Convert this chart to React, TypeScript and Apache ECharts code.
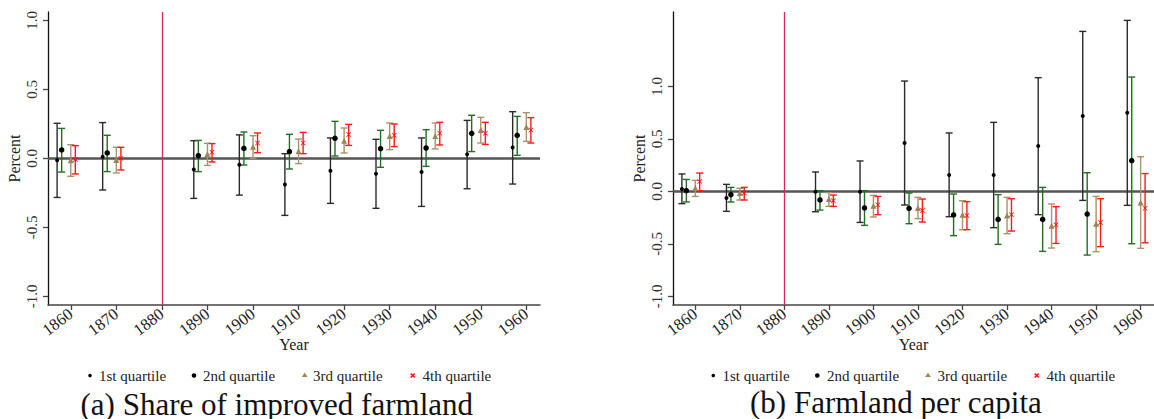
import React, { useEffect, useRef } from "react";
import * as echarts from "echarts";

// ---------- data ----------
const decades = [1860, 1870, 1890, 1900, 1910, 1920, 1930, 1940, 1950, 1960];
const xTickYears = [1860, 1870, 1880, 1890, 1900, 1910, 1920, 1930, 1940, 1950, 1960];
const yTickValues = [-1, -0.5, 0, 0.5, 1];
const treatmentYear = 1880;
const quartileNames = ["1st quartile", "2nd quartile", "3rd quartile", "4th quartile"];
const quartileOffsets = [-3, -2, 0, 1];

// Panel (a): Share of improved farmland
const aQ1Est = [-0.014, 0.012, -0.08, -0.046, -0.19, -0.089, -0.111, -0.099, 0.029, 0.078];
const aQ1Hi = [0.254, 0.259, 0.128, 0.17, 0.034, 0.148, 0.138, 0.148, 0.275, 0.338];
const aQ1Lo = [-0.283, -0.229, -0.29, -0.266, -0.413, -0.326, -0.362, -0.348, -0.22, -0.186];
const aQ2Est = [0.061, 0.039, 0.02, 0.072, 0.049, 0.145, 0.07, 0.075, 0.181, 0.167];
const aQ2Hi = [0.217, 0.167, 0.13, 0.191, 0.174, 0.268, 0.203, 0.208, 0.312, 0.304];
const aQ2Lo = [-0.099, -0.096, -0.096, -0.048, -0.077, 0.017, -0.065, -0.058, 0.049, 0.022];
const aQ3Est = [-0.014, -0.012, 0.032, 0.085, 0.051, 0.128, 0.162, 0.162, 0.206, 0.228];
const aQ3Hi = [0.099, 0.08, 0.109, 0.164, 0.14, 0.22, 0.256, 0.256, 0.297, 0.331];
const aQ3Lo = [-0.13, -0.106, -0.051, 0.0, -0.038, 0.039, 0.063, 0.068, 0.111, 0.123];
const aQ4Est = [-0.009, 0.0, 0.044, 0.111, 0.111, 0.172, 0.167, 0.181, 0.181, 0.206];
const aQ4Hi = [0.092, 0.08, 0.107, 0.184, 0.188, 0.246, 0.249, 0.261, 0.261, 0.295];
const aQ4Lo = [-0.113, -0.084, -0.026, 0.041, 0.034, 0.094, 0.085, 0.097, 0.101, 0.111];

// Panel (b): Farmland per capita
const bQ1Est = [0.023, -0.063, -0.003, -0.003, 0.461, 0.156, 0.156, 0.433, 0.719, 0.75];
const bQ1Hi = [0.166, 0.067, 0.185, 0.29, 1.052, 0.557, 0.658, 1.084, 1.525, 1.63];
const bQ1Lo = [-0.117, -0.19, -0.194, -0.296, -0.13, -0.241, -0.346, -0.222, -0.086, -0.133];
const bQ2Est = [0.007, -0.031, -0.082, -0.158, -0.162, -0.225, -0.267, -0.267, -0.216, 0.293];
const bQ2Hi = [0.114, 0.038, 0.007, 0.007, -0.015, -0.025, -0.031, 0.038, 0.178, 1.09];
const bQ2Lo = [-0.101, -0.101, -0.178, -0.324, -0.308, -0.422, -0.505, -0.572, -0.607, -0.499];
const bQ3Est = [0.032, -0.015, -0.073, -0.136, -0.158, -0.222, -0.229, -0.327, -0.308, -0.105];
const bQ3Hi = [0.105, 0.029, -0.012, -0.038, -0.057, -0.089, -0.057, -0.12, -0.048, 0.331];
const bQ3Lo = [-0.048, -0.082, -0.143, -0.244, -0.26, -0.365, -0.403, -0.54, -0.575, -0.543];
const bQ4Est = [0.095, -0.015, -0.089, -0.127, -0.181, -0.229, -0.222, -0.317, -0.296, -0.16];
const bQ4Hi = [0.175, 0.038, -0.035, -0.048, -0.073, -0.098, -0.07, -0.146, -0.07, 0.17];
const bQ4Lo = [0.007, -0.082, -0.143, -0.222, -0.292, -0.365, -0.378, -0.496, -0.527, -0.49];

const captionA = "(a) Share of improved farmland";
const captionB = "(b) Farmland per capita";

// ---------- styles ----------
const FONT = "'Liberation Serif', 'DejaVu Serif', serif";
const barColors = ["#2a2a2a", "#1f6f1f", "#a8936a", "#ff1a1a"];
const markerColors = ["#000000", "#000000", "#9c8656", "#ff0000"];
const XPATH = "path://M1,0L5,4L9,0L10,1L6,5L10,9L9,10L5,6L1,10L0,9L4,5L0,1Z";
const markerSymbols = ["circle", "circle", "triangle", XPATH];
const markerSizes = [4, 5.5, 6, 5];

function buildPanel(gi: number, est: number[][], hi: number[][], lo: number[][]) {
  const series: any[] = [];
  for (let q = 0; q < 4; q++) {
    const col = barColors[q];
    series.push({
      type: "custom",
      xAxisIndex: gi,
      yAxisIndex: gi,
      z: 3,
      data: decades.map((d, i) => [d + quartileOffsets[q], lo[q][i], hi[q][i]]),
      encode: { x: 0, y: [1, 2] },
      renderItem: (_p: any, api: any) => {
        const x = api.value(0);
        const pHi = api.coord([x, api.value(2)]);
        const pLo = api.coord([x, api.value(1)]);
        const w = 3.5;
        const style = { stroke: col, lineWidth: 1.4 };
        return {
          type: "group",
          children: [
            { type: "line", shape: { x1: pHi[0], y1: pHi[1], x2: pLo[0], y2: pLo[1] }, style },
            { type: "line", shape: { x1: pHi[0] - w, y1: pHi[1], x2: pHi[0] + w, y2: pHi[1] }, style },
            { type: "line", shape: { x1: pLo[0] - w, y1: pLo[1], x2: pLo[0] + w, y2: pLo[1] }, style },
          ],
        };
      },
    });
  }
  for (let q = 0; q < 4; q++) {
    const s: any = {
      type: "scatter",
      name: quartileNames[q],
      xAxisIndex: gi,
      yAxisIndex: gi,
      z: 4,
      symbol: markerSymbols[q],
      symbolSize: markerSizes[q],
      itemStyle: { color: markerColors[q], opacity: 1 },
      data: decades.map((d, i) => [d + quartileOffsets[q], est[q][i]]),
    };
    if (q === 0) {
      s.markLine = {
        silent: true,
        symbol: "none",
        label: { show: false },
        z: 2,
        data: [
          { yAxis: 0, lineStyle: { color: "#555555", width: 2.5, type: "solid" } },
          { xAxis: treatmentYear, lineStyle: { color: "#d8285a", width: 1.3, type: "solid" } },
        ],
      };
    }
    series.push(s);
  }
  return series;
}

function xAxisDef(gi: number, max: number) {
  return {
    type: "value",
    gridIndex: gi,
    min: 1855,
    max,
    name: "Year",
    nameLocation: "middle",
    nameGap: 31,
    nameMoveOverlap: false,
    nameTextStyle: { fontFamily: FONT, fontSize: 16, color: "#222" },
    axisLine: { show: true, onZero: false, lineStyle: { color: "#444", width: 1.5 } },
    axisTick: { show: true, length: 5, customValues: xTickYears, lineStyle: { color: "#444", width: 1.3 } },
    axisLabel: {
      show: true,
      customValues: xTickYears,
      rotate: 37,
      margin: 7,
      fontFamily: FONT,
      fontSize: 16.5,
      color: "#222",
      formatter: (v: number) => String(v),
    },
    splitLine: { show: false },
  };
}

function yAxisDef(gi: number, min: number, max: number) {
  return {
    type: "value",
    gridIndex: gi,
    min,
    max,
    name: "Percent",
    nameLocation: "middle",
    nameRotate: 90,
    nameGap: 26,
    nameMoveOverlap: false,
    nameTextStyle: { fontFamily: FONT, fontSize: 16, color: "#222" },
    axisLine: { show: true, onZero: false, lineStyle: { color: "#111", width: 1.3 } },
    axisTick: { show: true, length: 5, customValues: yTickValues, lineStyle: { color: "#444", width: 1.3 } },
    axisLabel: {
      show: true,
      customValues: yTickValues,
      rotate: 90,
      margin: 9,
      fontFamily: FONT,
      fontSize: 15,
      color: "#333",
      formatter: (v: number) => v.toFixed(1),
    },
    splitLine: { show: false },
  };
}

function legendGraphics(markerXs: number[], textXs: number[], y: number) {
  const els: any[] = [];
  for (let q = 0; q < 4; q++) {
    const mx = markerXs[q];
    if (q === 0) els.push({ type: "circle", shape: { cx: mx, cy: y, r: 1.8 }, style: { fill: "#000" } });
    if (q === 1) els.push({ type: "circle", shape: { cx: mx, cy: y, r: 2.3 }, style: { fill: "#000" } });
    if (q === 2)
      els.push({
        type: "polygon",
        shape: { points: [[mx - 2.8, y + 1.5], [mx + 2.8, y + 1.5], [mx, y - 3]] },
        style: { fill: markerColors[2] },
      });
    if (q === 3) {
      const st = { stroke: "#ff0000", lineWidth: 1.3 };
      els.push({ type: "line", shape: { x1: mx - 2, y1: y - 2, x2: mx + 2, y2: y + 2 }, style: st });
      els.push({ type: "line", shape: { x1: mx - 2, y1: y + 2, x2: mx + 2, y2: y - 2 }, style: st });
    }
    els.push({
      type: "text",
      x: textXs[q],
      y,
      style: {
        text: quartileNames[q],
        fontFamily: FONT,
        fontSize: 15,
        fill: "#222",
        align: "left",
        verticalAlign: "middle",
      },
    });
  }
  return els;
}

export default function App() {
  const ref = useRef<HTMLDivElement>(null);
  useEffect(() => {
    if (!ref.current) return;
    const chart = echarts.init(ref.current, undefined, { renderer: "svg" });
    const option: any = {
      animation: false,
      backgroundColor: "#ffffff",
      textStyle: { fontFamily: FONT },
      grid: [
        { left: 48, top: 12, width: 492, height: 293, containLabel: false },
        { left: 673, top: 12, width: 491, height: 293, containLabel: false },
      ],
      xAxis: [xAxisDef(0, 1963), xAxisDef(1, 1963)],
      yAxis: [yAxisDef(0, -1.062, 1.06), yAxisDef(1, -1.083, 1.71)],
      series: [
        ...buildPanel(
          0,
          [aQ1Est, aQ2Est, aQ3Est, aQ4Est],
          [aQ1Hi, aQ2Hi, aQ3Hi, aQ4Hi],
          [aQ1Lo, aQ2Lo, aQ3Lo, aQ4Lo]
        ),
        ...buildPanel(
          1,
          [bQ1Est, bQ2Est, bQ3Est, bQ4Est],
          [bQ1Hi, bQ2Hi, bQ3Hi, bQ4Hi],
          [bQ1Lo, bQ2Lo, bQ3Lo, bQ4Lo]
        ),
      ],
      graphic: [
        ...legendGraphics([90, 194, 304.7, 412.7], [99, 203, 313, 422.5], 375.5),
        ...legendGraphics([713.3, 817.3, 928, 1036.7], [722.5, 827, 937.5, 1046.5], 375.5),
        {
          type: "text",
          x: 80.5,
          y: 404,
          style: { text: captionA, fontFamily: FONT, fontSize: 31, fill: "#111", align: "left", verticalAlign: "middle" },
        },
        {
          type: "text",
          x: 750,
          y: 402,
          style: { text: captionB, fontFamily: FONT, fontSize: 31, fill: "#111", align: "left", verticalAlign: "middle" },
        },
      ],
    };
    chart.setOption(option);
    return () => chart.dispose();
  }, []);
  return (
    <div
      ref={ref}
      style={{ position: "absolute", left: 0, top: 0, width: 1154, height: 419, overflow: "hidden" }}
    />
  );
}
